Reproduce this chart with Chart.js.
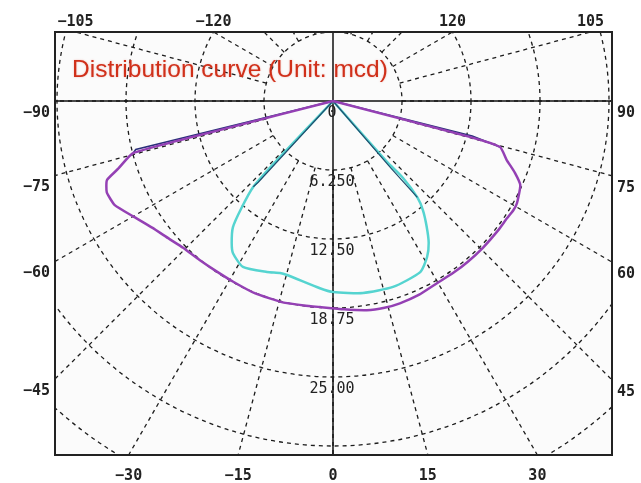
<!DOCTYPE html>
<html>
<head>
<meta charset="utf-8">
<script src="https://cdn.jsdelivr.net/npm/chart.js@4.4.1/dist/chart.umd.min.js"></script>
<style>
  html, body { margin: 0; padding: 0; background: #fff; }
</style>
</head>
<body>
<canvas id="graph" width="641" height="483"></canvas>
<script>
// angles in degrees from straight down (0), positive to the right; values in mcd
var purpleAngles = [-90, -75.6, -75.4, -72.5, -70.7, -68, -64.5, -60, -55, -50, -45.6, -40, -35, -28.9, -22, -14, -8, -3.6, 3, 9.2, 14, 18.3, 24, 29.7, 35, 40, 45.6, 52, 56, 58.8, 61, 65.8, 68.5, 71.3, 74.6, 75.3, 90];
var purpleValues = [0, 9.6, 18.7, 20.4, 21.7, 22.1, 21.9, 20.9, 20.0, 19.4, 19.0, 18.8, 18.7, 18.7, 18.8, 18.8, 18.7, 18.7, 18.9, 19.2, 19.3, 19.3, 19.2, 19.0, 19.0, 19.0, 19.0, 19.0, 19.0, 19.1, 19.06, 18.6, 17.7, 16.6, 15.7, 12.8, 0];

var navyAngles = [-90, -76.2, -75.4, null, 74.6, 75.9, 90];
var navyValues = [0, 18.4, 18.7, null, 15.7, 13.0, 0];

var cyanAngles = [-90, -43.5, -42.9, -40.5, -38.4, -35.5, -33.3, -28.5, -21.1, -17.1, -14.8, -4, 0, 8.9, 17.9, 27, 31.1, 34, 36.7, 39.5, 41.2, 42.3, 41.6, 90];
var cyanValues = [0, 7.4, 10.6, 12.8, 14.6, 15.8, 16.5, 17.1, 16.6, 16.3, 16.3, 17.0, 17.3, 17.6, 17.7, 17.4, 16.5, 15.5, 14.2, 12.8, 11.6, 9.4, 7.4, 0];

var tealAngles = [-90, -42.6, -42.9, null, 41.2, 40.8, 90];
var tealValues = [0, 10.0, 10.6, null, 11.6, 8.0, 0];

var gridRings = [6.25, 12.5, 18.75, 25, 31.25, 37.5];
var spokeAngles = [-165, -150, -135, -120, -105, -90, -75, -60, -45, -30, -15, 0, 15, 30, 45, 60, 75, 90, 105, 120, 135, 150, 165, 180];
var ringValues = [0, 6.25, 12.5, 18.75, 25];
var ringLabels = ['0', '6.250', '12.50', '18.75', '25.00'];
var edgeTickAngles = [-120, -105, -90, -75, -60, -45, -30, -15, 0, 15, 30, 45, 60, 75, 90, 105, 120];
var titleText = 'Distribution curve (Unit: mcd)';

function toXY(angles, values) {
    return angles.map(function (a, i) {
        if (a === null) return { x: null, y: null };
        var t = a * Math.PI / 180;
        return { x: values[i] * Math.sin(t), y: -values[i] * Math.cos(t) };
    });
}

var polarGrid = {
    id: 'polarGrid',
    beforeDatasetsDraw: function (chart) {
        var ctx = chart.ctx, a = chart.chartArea;
        var xs = chart.scales.x, ys = chart.scales.y;
        var cx = xs.getPixelForValue(0), cy = ys.getPixelForValue(0);
        var unit = xs.getPixelForValue(1) - cx;
        ctx.save();
        ctx.fillStyle = '#fbfbfb';
        ctx.fillRect(a.left, a.top, a.right - a.left, a.bottom - a.top);
        ctx.beginPath();
        ctx.rect(a.left, a.top, a.right - a.left, a.bottom - a.top);
        ctx.clip();

        ctx.strokeStyle = '#1c1c1c';
        ctx.lineWidth = 1.3;
        ctx.setLineDash([4, 4]);
        gridRings.forEach(function (r) {
            ctx.beginPath();
            ctx.arc(cx, cy, r * unit, 0, Math.PI * 2);
            ctx.stroke();
        });
        spokeAngles.forEach(function (ang) {
            var t = ang * Math.PI / 180;
            var sx = Math.sin(t), sy = -Math.cos(t);
            ctx.beginPath();
            ctx.moveTo(xs.getPixelForValue(gridRings[0] * sx), ys.getPixelForValue(gridRings[0] * sy));
            ctx.lineTo(xs.getPixelForValue(60 * sx), ys.getPixelForValue(60 * sy));
            ctx.stroke();
        });

        ctx.setLineDash([]);
        ctx.strokeStyle = '#111';
        ctx.lineWidth = 1.5;
        ctx.beginPath();
        ctx.moveTo(a.left, cy); ctx.lineTo(a.right, cy);
        ctx.moveTo(cx, a.top); ctx.lineTo(cx, a.bottom);
        ctx.stroke();
        ctx.restore();
    },
    afterDatasetsDraw: function (chart) {
        var ctx = chart.ctx, a = chart.chartArea;
        var xs = chart.scales.x, ys = chart.scales.y;
        var cx = xs.getPixelForValue(0), cy = ys.getPixelForValue(0);
        ctx.save();

        ctx.strokeStyle = '#222';
        ctx.lineWidth = 2;
        ctx.strokeRect(a.left, a.top, a.right - a.left, a.bottom - a.top);

        ctx.fillStyle = '#222';
        ctx.font = '15px "DejaVu Sans Mono", monospace';
        ctx.textBaseline = 'middle';
        ctx.textAlign = 'center';
        ringValues.forEach(function (r, i) {
            ctx.fillText(ringLabels[i], cx - 1, ys.getPixelForValue(-r) + 12);
        });

        ctx.font = 'bold 15px "DejaVu Sans Mono", monospace';
        edgeTickAngles.forEach(function (ang) {
            var t = ang * Math.PI / 180;
            var dx = Math.sin(t), dy = Math.cos(t);
            var tx = dx < 0 ? (a.left - cx) / dx : dx > 0 ? (a.right - cx) / dx : Infinity;
            var ty = dy < 0 ? (a.top - cy) / dy : dy > 0 ? (a.bottom - cy) / dy : Infinity;
            var label = (ang < 0 ? '\u2212' : '') + Math.abs(ang);
            if (ty <= tx) {
                ctx.textAlign = 'center';
                ctx.fillText(label, cx + dx * ty, dy > 0 ? a.bottom + 21 : a.top - 10);
            } else {
                var py = cy + dy * tx + 12;
                if (dx < 0) { ctx.textAlign = 'right'; ctx.fillText(label, a.left - 5, py); }
                else { ctx.textAlign = 'left'; ctx.fillText(label, a.right + 5, py); }
            }
        });

        ctx.font = '24.5px "Liberation Sans", Arial, sans-serif';
        ctx.textAlign = 'left';
        ctx.textBaseline = 'alphabetic';
        ctx.fillStyle = '#d0301a';
        ctx.shadowColor = 'rgba(225,110,100,0.45)';
        ctx.shadowBlur = 2;
        ctx.fillText(titleText, a.left + 17, a.top + 45);
        ctx.restore();
    }
};

document.addEventListener("DOMContentLoaded", function () {
    var px = 69 / 6.25;
    var config = {
        type: 'scatter',
        data: {
            datasets: [{
                label: 'purple',
                data: toXY(purpleAngles, purpleValues),
                borderColor: '#9440b4',
                borderWidth: 2.5,
                tension: 0.15
            }, {
                label: 'navy',
                data: toXY(navyAngles, navyValues),
                borderColor: '#2b2f7a',
                borderWidth: 1.5
            }, {
                label: 'teal',
                data: toXY(tealAngles, tealValues),
                borderColor: '#1f4f6f',
                borderWidth: 1.2
            }, {
                label: 'cyan',
                data: toXY(cyanAngles, cyanValues),
                borderColor: '#55d4d0',
                borderWidth: 2.5,
                tension: 0.2
            }]
        },
        options: {
            responsive: false,
            animation: false,
            showLine: true,
            elements: { point: { radius: 0 }, line: { tension: 0 } },
            layout: { padding: { left: 55, top: 32, right: 29, bottom: 28 } },
            scales: {
                x: { type: 'linear', min: (55 - 333) / px, max: (612 - 333) / px, display: false },
                y: { type: 'linear', min: (101 - 455) / px, max: (101 - 32) / px, display: false }
            },
            plugins: { legend: { display: false }, tooltip: { enabled: false } }
        },
        plugins: [polarGrid]
    };
    var ctx = document.getElementById('graph').getContext('2d');
    new Chart(ctx, config);
});
</script>
</body>
</html>
